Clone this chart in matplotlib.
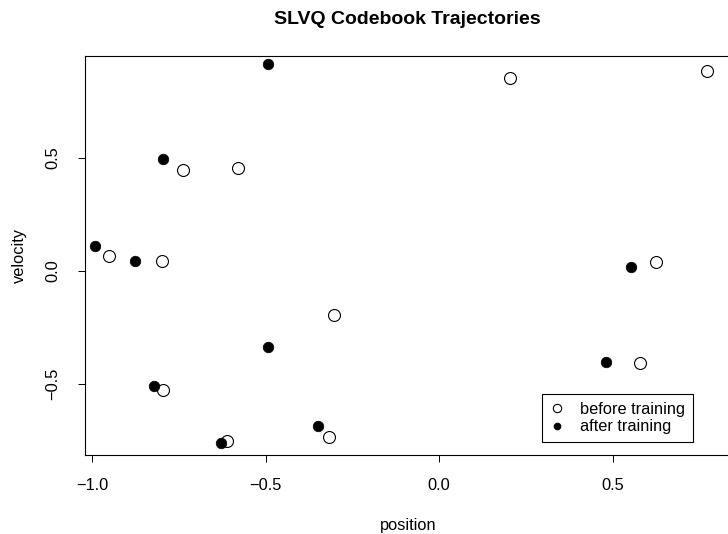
import numpy as np
import matplotlib
matplotlib.use("Agg")
import matplotlib.pyplot as plt
from matplotlib.lines import Line2D

# codebook vectors (position, velocity)
before_pos = [0.205, 0.771, -0.739, -0.578, -0.951, -0.798, 0.626, -0.302,
              0.579, -0.796, -0.612, -0.318]
before_vel = [0.854, 0.885, 0.446, 0.454, 0.066, 0.046, 0.038, -0.196,
              -0.408, -0.525, -0.751, -0.736]

after_pos = [-0.494, -0.796, -0.991, -0.875, 0.552, -0.493, 0.482, -0.820,
             -0.628, -0.349]
after_vel = [0.916, 0.497, 0.112, 0.046, 0.019, -0.336, -0.401, -0.510,
             -0.760, -0.686]

xticks = [-1.0, -0.5, 0.0, 0.5]
yticks = [-0.5, 0.0, 0.5]


def fmt(v):
    return f"{v:.1f}".replace("-", "\u2212")


plt.rcParams['font.family'] = ['Liberation Sans', 'DejaVu Sans']
plt.rcParams['font.size'] = 11.8

W, H = 728, 534
fig = plt.figure(figsize=(W / 100, H / 100), dpi=100)
left, right, top, bottom = 85, 731, 56, 455
ax = fig.add_axes([left / W, (H - bottom) / H, (right - left) / W, (bottom - top) / H])

ax.scatter(before_pos, before_vel, s=8.6 ** 2, facecolors='white',
           edgecolors='black', linewidths=0.8, zorder=3)
ax.scatter(after_pos, after_vel, s=7.6 ** 2, facecolors='black',
           edgecolors='black', linewidths=0.5, zorder=4)

ax.set_xlim((left - 439) / 347, (right - 439) / 347)
ax.set_ylim((271 - bottom) / 226, (271 - top) / 226)
ax.set_xticks(xticks)
ax.set_yticks(yticks)
ax.set_xticklabels([fmt(v) for v in xticks])
ax.set_yticklabels([fmt(v) for v in yticks], rotation=90, va='center')
ax.tick_params(length=5, width=0.7, direction='out')
ax.tick_params(axis='x', pad=11.5)
ax.tick_params(axis='y', pad=13)
for s in ax.spines.values():
    s.set_linewidth(0.8)
ax.spines['right'].set_visible(False)

ax.set_xlabel("position", labelpad=18)
ax.set_ylabel("velocity", labelpad=13)
fig.text(407.5 / W, 1 - 19 / H, "SLVQ Codebook Trajectories",
         ha='center', va='center', fontsize=14, fontweight='bold')

handles = [
    Line2D([], [], linestyle='none', marker='o', markersize=6,
           markerfacecolor='white', markeredgecolor='black', markeredgewidth=0.8),
    Line2D([], [], linestyle='none', marker='o', markersize=4.5,
           markerfacecolor='black', markeredgecolor='black'),
]
leg = ax.legend(handles, ["before training", "after training"],
                loc='lower right', bbox_to_anchor=(692.7 / W, (H - 441.7) / H),
                bbox_transform=fig.transFigure, borderaxespad=0,
                fancybox=False, edgecolor='black', framealpha=1,
                handlelength=1.0, handletextpad=0.9, labelspacing=0.15,
                borderpad=0.45)
leg.get_frame().set_linewidth(0.8)

fig.savefig("out.png", dpi=100)
